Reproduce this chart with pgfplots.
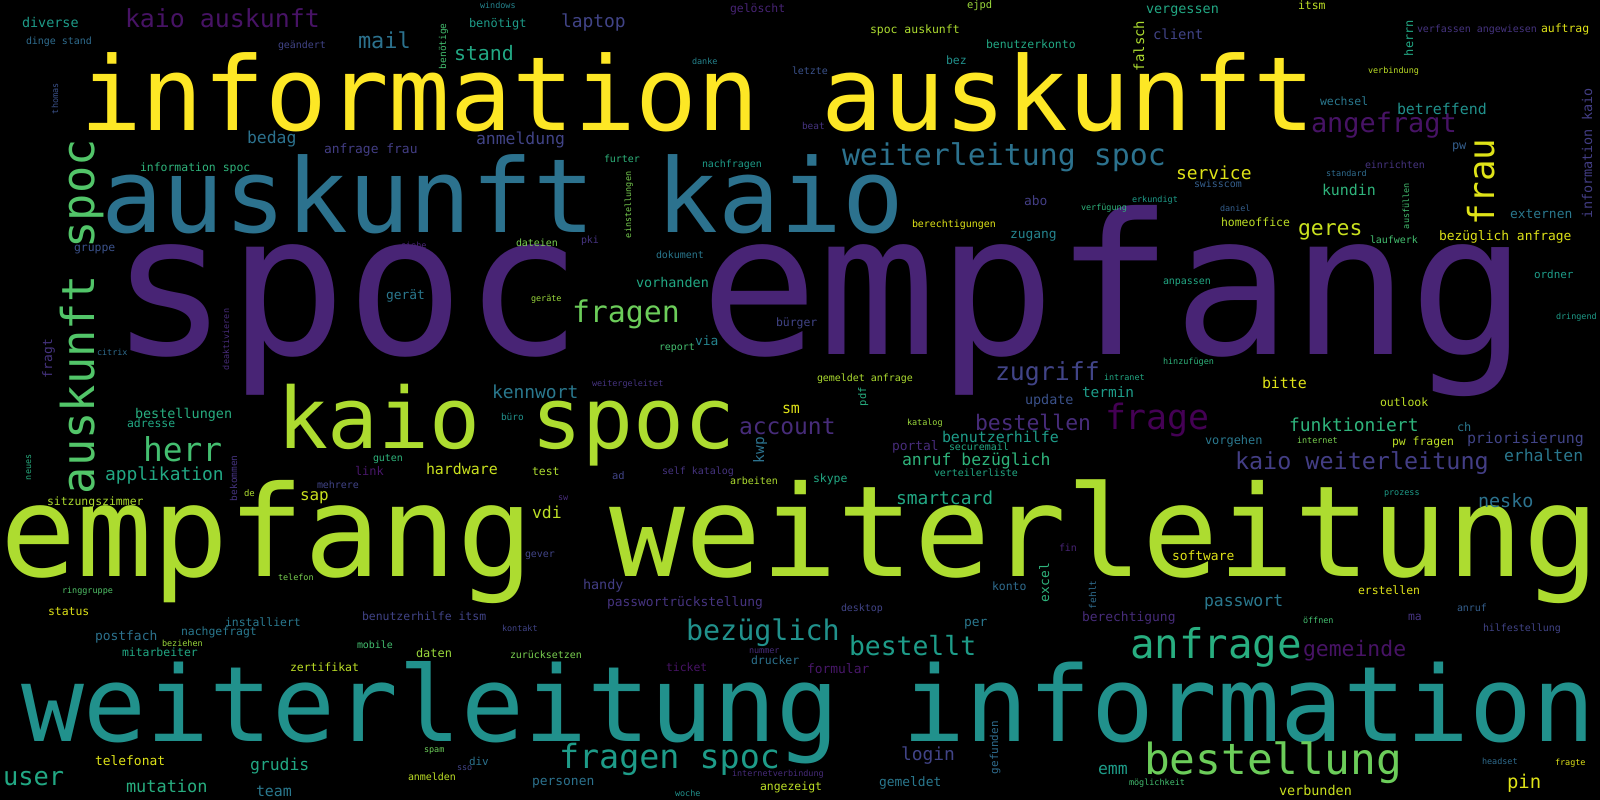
\documentclass[border=0pt]{standalone}
\usepackage{fontspec}
\setmainfont{DejaVu Sans Mono}
\usepackage{pgfplots}
\pgfplotsset{compat=1.18}
\definecolor{v00}{HTML}{440154}
\definecolor{v05}{HTML}{471365}
\definecolor{v07}{HTML}{481769}
\definecolor{v10}{HTML}{482475}
\definecolor{v12}{HTML}{472C7A}
\definecolor{v15}{HTML}{463480}
\definecolor{v17}{HTML}{433E85}
\definecolor{v20}{HTML}{414487}
\definecolor{v25}{HTML}{3B528B}
\definecolor{v30}{HTML}{355F8D}
\definecolor{v35}{HTML}{2F6C8E}
\definecolor{v37}{HTML}{2C728E}
\definecolor{v40}{HTML}{2A788E}
\definecolor{v45}{HTML}{25848E}
\definecolor{v50}{HTML}{21918C}
\definecolor{v55}{HTML}{1E9C89}
\definecolor{v60}{HTML}{22A884}
\definecolor{v62}{HTML}{28AE80}
\definecolor{v65}{HTML}{2FB47C}
\definecolor{v70}{HTML}{44BF70}
\definecolor{v72}{HTML}{52C569}
\definecolor{v75}{HTML}{5EC962}
\definecolor{v78}{HTML}{6CCD5A}
\definecolor{v80}{HTML}{7AD151}
\definecolor{v85}{HTML}{9BD93C}
\definecolor{v87}{HTML}{ADDC30}
\definecolor{v90}{HTML}{BDDF26}
\definecolor{v92}{HTML}{CAE11F}
\definecolor{v95}{HTML}{DFE318}
\definecolor{v100}{HTML}{FDE725}
% one word: x (left), y (baseline), font size, rotation, colour, text
\newcommand{\W}[6]{%
  \addplot[draw=none, mark=none, point meta=y,
    nodes near coords={#6},
    nodes near coords style={anchor=base west, inner sep=0pt, outer sep=0pt,
      rotate=#4, font=\fontsize{#3}{#3}\selectfont, text=#5}]
    coordinates {(#1,#2)};}
\begin{document}
\begin{tikzpicture}
\fill[black] (0,0) rectangle (1600bp,800bp);
\begin{axis}[
  at={(0,0)}, anchor=south west,
  width=1600bp, height=800bp, scale only axis,
  xmin=0, xmax=1600, ymin=0, ymax=800,
  y dir=reverse,
  hide axis, clip=false,
]
\W{110}{354}{197}{0}{v10}{spoc empfang}
\W{80}{130}{103}{0}{v100}{information auskunft}
\W{101}{232}{103}{0}{v37}{auskunft kaio}
\W{277}{448}{85}{0}{v87}{kaio spoc}
\W{0}{576}{127}{0}{v87}{empfang weiterleitung}
\W{21}{741}{105}{0}{v50}{weiterleitung information}
\W{842}{165}{30}{0}{v37}{weiterleitung spoc}
\W{1130}{658}{41}{0}{v62}{anfrage}
\W{1144}{774}{43}{0}{v78}{bestellung}
\W{559}{768}{33.5}{0}{v55}{fragen spoc}
\W{686}{640}{28.5}{0}{v50}{bezüglich}
\W{849}{655}{26.5}{0}{v55}{bestellt}
\W{143}{461}{33}{0}{v70}{herr}
\W{572}{322}{30}{0}{v78}{fragen}
\W{1105}{429}{35}{0}{v00}{frage}
\W{125}{27}{25}{0}{v05}{kaio auskunft}
\W{1311}{132}{27}{0}{v05}{angefragt}
\W{739}{434}{23}{0}{v12}{account}
\W{995}{380}{25}{0}{v20}{zugriff}
\W{1235}{469}{23.5}{0}{v17}{kaio weiterleitung}
\W{3}{785}{25.5}{0}{v60}{user}
\W{975}{430}{21.5}{0}{v12}{bestellen}
\W{1303}{656}{21.5}{0}{v05}{gemeinde}
\W{1298}{235}{21.5}{0}{v92}{geres}
\W{358}{48}{22}{0}{v37}{mail}
\W{22}{27}{13.5}{0}{v55}{diverse}
\W{26}{44}{10}{0}{v35}{dinge stand}
\W{278}{48}{10}{0}{v20}{geändert}
\W{247}{143}{16.5}{0}{v37}{bedag}
\W{324}{153}{13}{0}{v17}{anfrage frau}
\W{140}{171}{11.5}{0}{v65}{information spoc}
\W{74}{251}{11.5}{0}{v25}{gruppe}
\W{480}{8.5}{8.5}{0}{v45}{windows}
\W{730}{12}{11.5}{0}{v10}{gelöscht}
\W{469}{27}{12}{0}{v55}{benötigt}
\W{561}{27}{18}{0}{v20}{laptop}
\W{454}{60}{20}{0}{v60}{stand}
\W{692}{64}{8.5}{0}{v45}{danke}
\W{792}{74}{10}{0}{v25}{letzte}
\W{476}{144}{16.5}{0}{v20}{anmeldung}
\W{604}{162}{10}{0}{v65}{furter}
\W{702}{167}{10}{0}{v55}{nachfragen}
\W{516}{246}{10}{0}{v80}{dateien}
\W{581}{243}{10}{0}{v15}{pki}
\W{401}{248}{8.5}{0}{v10}{siehe}
\W{656}{258}{10}{0}{v40}{dokument}
\W{967}{8}{10.5}{0}{v85}{ejpd}
\W{870}{33}{11.5}{0}{v87}{spoc auskunft}
\W{1146}{13}{13.5}{0}{v60}{vergessen}
\W{1153}{39}{14}{0}{v20}{client}
\W{986}{48}{11.5}{0}{v60}{benutzerkonto}
\W{946}{64}{11.5}{0}{v50}{bez}
\W{802}{129}{9.5}{0}{v15}{beat}
\W{1176}{179}{18}{0}{v95}{service}
\W{1024}{205}{13}{0}{v17}{abo}
\W{1081}{210}{8.5}{0}{v65}{verfügung}
\W{1132}{202}{8.5}{0}{v55}{erkundigt}
\W{1194}{187}{10}{0}{v30}{swisscom}
\W{912}{227}{10}{0}{v95}{berechtigungen}
\W{1010}{238}{13}{0}{v45}{zugang}
\W{1298}{9}{11.5}{0}{v90}{itsm}
\W{1417}{32}{10}{0}{v15}{verfassen angewiesen}
\W{1541}{32}{11.5}{0}{v95}{auftrag}
\W{1368}{73}{8.5}{0}{v90}{verbindung}
\W{1320}{105}{11.5}{0}{v40}{wechsel}
\W{1397}{114}{15}{0}{v50}{betreffend}
\W{1452}{149}{12}{0}{v30}{pw}
\W{1365}{168}{10}{0}{v15}{einrichten}
\W{1326}{176}{8.5}{0}{v35}{standard}
\W{1322}{195}{15}{0}{v65}{kundin}
\W{1220}{211}{8.5}{0}{v30}{daniel}
\W{1221}{226}{11.5}{0}{v90}{homeoffice}
\W{1510}{218}{13}{0}{v40}{externen}
\W{1439}{240}{13}{0}{v95}{bezüglich anfrage}
\W{1370}{243}{10}{0}{v70}{laufwerk}
\W{386}{299}{13}{0}{v40}{gerät}
\W{97}{355}{8.5}{0}{v35}{citrix}
\W{135}{418}{13.5}{0}{v62}{bestellungen}
\W{127}{427}{11.5}{0}{v60}{adresse}
\W{105}{480}{18}{0}{v60}{applikation}
\W{244}{496}{9}{0}{v87}{de}
\W{300}{500}{16}{0}{v92}{sap}
\W{355}{475}{12}{0}{v07}{link}
\W{317}{488}{10}{0}{v20}{mehrere}
\W{373}{461}{10}{0}{v65}{guten}
\W{47}{505}{11.5}{0}{v87}{sitzungszimmer}
\W{636}{287}{13.5}{0}{v60}{vorhanden}
\W{531}{301}{8.5}{0}{v85}{geräte}
\W{776}{326}{11.5}{0}{v20}{bürger}
\W{695}{345}{13}{0}{v45}{via}
\W{659}{350}{10}{0}{v70}{report}
\W{592}{386}{8.5}{0}{v15}{weitergeleitet}
\W{492}{398}{18}{0}{v40}{kennwort}
\W{501}{420}{9.5}{0}{v50}{büro}
\W{782}{413}{15}{0}{v95}{sm}
\W{426}{474}{15}{0}{v92}{hardware}
\W{532}{475}{11.5}{0}{v87}{test}
\W{612}{479}{10.5}{0}{v20}{ad}
\W{662}{474}{10}{0}{v15}{self katalog}
\W{730}{484}{10}{0}{v87}{arbeiten}
\W{558}{500}{8.5}{0}{v12}{sw}
\W{532}{518}{16.5}{0}{v90}{vdi}
\W{1163}{284}{10}{0}{v60}{anpassen}
\W{1163}{364}{8.5}{0}{v65}{hinzufügen}
\W{1104}{380}{8.5}{0}{v60}{intranet}
\W{817}{381}{10}{0}{v87}{gemeldet anfrage}
\W{1082}{397}{14.5}{0}{v55}{termin}
\W{1025}{404}{13.5}{0}{v25}{update}
\W{907}{425}{8.5}{0}{v85}{katalog}
\W{942}{442}{15}{0}{v55}{benutzerhilfe}
\W{892}{450}{13}{0}{v12}{portal}
\W{949}{450}{10}{0}{v60}{securemail}
\W{902}{465}{16.5}{0}{v65}{anruf bezüglich}
\W{813}{482}{11.5}{0}{v60}{skype}
\W{934}{476}{10}{0}{v60}{verteilerliste}
\W{896}{504}{18}{0}{v60}{smartcard}
\W{1534}{278}{11}{0}{v55}{ordner}
\W{1556}{319}{8.5}{0}{v55}{dringend}
\W{1262}{388}{15}{0}{v95}{bitte}
\W{1380}{406}{11.5}{0}{v90}{outlook}
\W{1289}{431}{18}{0}{v65}{funktioniert}
\W{1457}{431}{12}{0}{v40}{ch}
\W{1467}{443}{15}{0}{v20}{priorisierung}
\W{1205}{444}{12}{0}{v40}{vorgehen}
\W{1297}{443}{8.5}{0}{v80}{internet}
\W{1392}{445}{11.5}{0}{v90}{pw fragen}
\W{1504}{461}{16.5}{0}{v40}{erhalten}
\W{1478}{507}{18.5}{0}{v37}{nesko}
\W{1384}{495}{8.5}{0}{v55}{prozess}
\W{278}{580}{8.5}{0}{v80}{telefon}
\W{62}{593}{8.5}{0}{v72}{ringgruppe}
\W{48}{615}{11.5}{0}{v95}{status}
\W{225}{626}{11.5}{0}{v40}{installiert}
\W{362}{620}{11.5}{0}{v20}{benutzerhilfe itsm}
\W{181}{635}{11.5}{0}{v40}{nachgefragt}
\W{95}{640}{13}{0}{v37}{postfach}
\W{162}{646}{8.5}{0}{v85}{beziehen}
\W{357}{648}{10}{0}{v70}{mobile}
\W{122}{656}{11.5}{0}{v60}{mitarbeiter}
\W{290}{671}{11.5}{0}{v90}{zertifikat}
\W{95}{765}{13}{0}{v95}{telefonat}
\W{250}{770}{16.5}{0}{v60}{grudis}
\W{126}{792}{17}{0}{v62}{mutation}
\W{256}{796}{15}{0}{v40}{team}
\W{525}{557}{10}{0}{v20}{gever}
\W{583}{589}{13.5}{0}{v17}{handy}
\W{607}{606}{13}{0}{v15}{passwortrückstellung}
\W{502}{631}{8.5}{0}{v20}{kontakt}
\W{416}{657}{12}{0}{v85}{daten}
\W{510}{658}{10}{0}{v80}{zurücksetzen}
\W{749}{653}{8.5}{0}{v12}{nummer}
\W{751}{664}{11.5}{0}{v37}{drucker}
\W{666}{671}{11.5}{0}{v05}{ticket}
\W{424}{752}{8.5}{0}{v78}{spam}
\W{469}{765}{11}{0}{v37}{div}
\W{457}{770}{8.5}{0}{v20}{sso}
\W{408}{780}{10}{0}{v90}{anmelden}
\W{532}{785}{13}{0}{v37}{personen}
\W{732}{776}{8.5}{0}{v12}{internetverbindung}
\W{760}{790}{11.5}{0}{v90}{angezeigt}
\W{675}{796}{8.5}{0}{v50}{woche}
\W{1059}{551}{10}{0}{v10}{fin}
\W{1172}{560}{13}{0}{v95}{software}
\W{992}{590}{11.5}{0}{v35}{konto}
\W{841}{611}{10}{0}{v20}{desktop}
\W{1082}{621}{13}{0}{v12}{berechtigung}
\W{964}{626}{13}{0}{v40}{per}
\W{807}{673}{13}{0}{v07}{formular}
\W{901}{760}{18}{0}{v20}{login}
\W{1098}{774}{16.5}{0}{v55}{emm}
\W{879}{786}{13}{0}{v40}{gemeldet}
\W{1129}{785}{8.5}{0}{v70}{möglichkeit}
\W{1358}{594}{11.5}{0}{v95}{erstellen}
\W{1204}{606}{16.5}{0}{v40}{passwort}
\W{1457}{611}{10}{0}{v30}{anruf}
\W{1408}{620}{11.5}{0}{v15}{ma}
\W{1303}{623}{8.5}{0}{v70}{öffnen}
\W{1483}{631}{10}{0}{v20}{hilfestellung}
\W{1482}{764}{8.5}{0}{v35}{headset}
\W{1555}{765}{8.5}{0}{v95}{fragte}
\W{1507}{788}{19}{0}{v95}{pin}
\W{1279}{795}{13.5}{0}{v92}{verbunden}
\W{94}{494}{45.5}{90}{v72}{auskunft spoc}
\W{1494}{225}{36}{90}{v95}{frau}
\W{1592}{218}{13.5}{90}{v17}{information kaio}
\W{1144}{71}{14}{90}{v87}{falsch}
\W{1413}{56}{12}{90}{v60}{herrn}
\W{446}{69}{9.5}{90}{v70}{benötige}
\W{631}{238}{8.5}{90}{v80}{einstellungen}
\W{58}{114}{8.5}{90}{v25}{thomas}
\W{52}{378}{13}{90}{v15}{fragt}
\W{229}{370}{8.5}{90}{v12}{deaktivieren}
\W{31}{480}{8.5}{90}{v62}{neues}
\W{237}{501}{9.5}{90}{v15}{bekommen}
\W{764}{463}{14.5}{90}{v37}{kwp}
\W{866}{406}{10.5}{90}{v62}{pdf}
\W{1409}{229}{8.5}{90}{v70}{ausfüllen}
\W{1049}{602}{13}{90}{v65}{excel}
\W{1096}{609}{9.5}{90}{v35}{fehlt}
\W{998}{774}{11}{90}{v35}{gefunden}
\end{axis}
\pgfresetboundingbox
\path[use as bounding box] (0,0) rectangle (1600bp,800bp);
\end{tikzpicture}
\end{document}
